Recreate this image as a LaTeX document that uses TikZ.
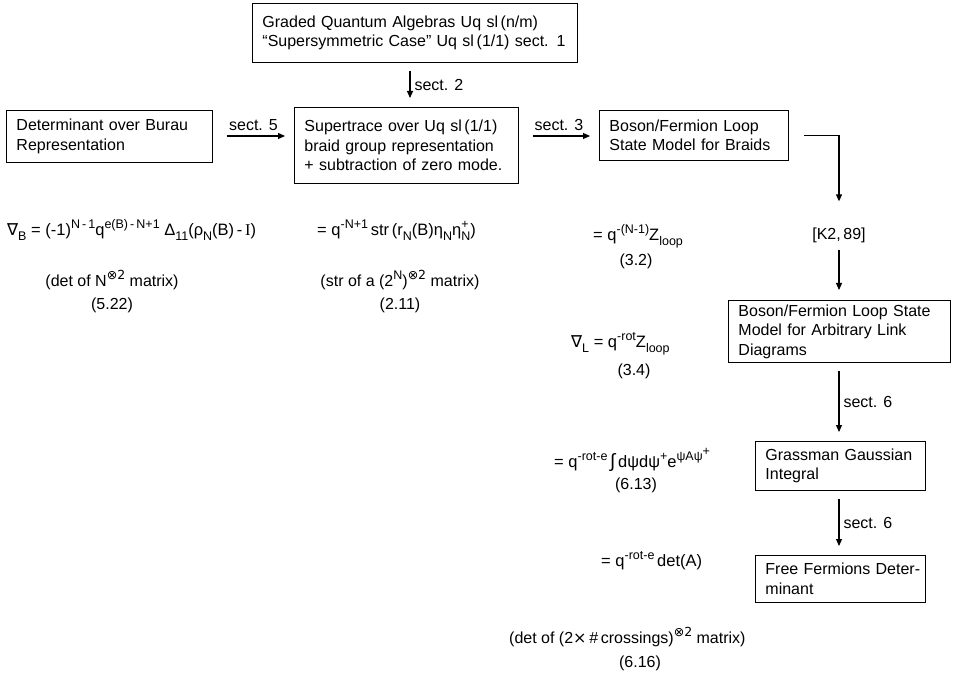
\documentclass[tikz,border=0pt]{standalone}
\usepackage{fontspec}
\setmainfont{Liberation Sans}
\newfontfamily\sym{DejaVu Sans}
\newfontfamily\serifI{Liberation Serif}
\usetikzlibrary{arrows.meta}
\newcommand{\su}[1]{\raisebox{0.42em}{\fontsize{12.5}{12.5}\selectfont #1}}
\newcommand{\sd}[1]{\raisebox{-0.28em}{\fontsize{12.5}{12.5}\selectfont #1}}
\newcommand{\sud}[2]{\rlap{\su{#1}}\sd{#2}}
\begin{document}
\begin{tikzpicture}[x=1pt,y=-1pt,
  every node/.style={font=\fontsize{16}{19.5}\selectfont},
  box/.style={draw, line width=0.9pt, align=left, inner xsep=10pt, inner ysep=0pt, anchor=north west},
  lbl/.style={inner sep=1pt},
  fml/.style={inner sep=1pt, anchor=west, font=\fontsize{16.5}{19.5}\selectfont},
  arr/.style={line width=1.1pt, -{Triangle[length=7pt,width=6pt]}, shorten <=8pt, shorten >=9pt}]
\useasboundingbox (0,0) rectangle (958,684);
% boxes
\node[box, minimum height=59, text width=305] (top) at (252,3)
  {\mbox{Graded Quantum Algebras Uq sl\,(n/m)}\\\mbox{``Supersymmetric Case'' Uq sl\,(1/1) sect. 1}};
\node[box, minimum height=52, text width=186] (det) at (6,110)
  {\mbox{Determinant over Burau}\\\mbox{Representation}};
\node[box, minimum height=76, text width=204] (super) at (294,107)
  {\mbox{Supertrace over Uq sl\,(1/1)}\\\mbox{braid group representation}\\\mbox{+ subtraction of zero mode.}};
\node[box, minimum height=50, text width=169] (bos1) at (599,110)
  {\mbox{Boson/Fermion Loop}\\\mbox{State Model for Braids}};
\node[box, minimum height=62, text width=202] (bos2) at (728,300)
  {\mbox{Boson/Fermion Loop State}\\\mbox{Model for Arbitrary Link}\\\mbox{Diagrams}};
\node[box, minimum height=49, text width=150] (grass) at (755,441)
  {\mbox{Grassman Gaussian}\\\mbox{Integral}};
\node[box, minimum height=47, text width=150] (free) at (755,555)
  {\mbox{Free Fermions Deter-}\\\mbox{minant}};
\node[lbl] (k2) at (839,235) {[K2,\,89]};
% connectors
\coordinate (s2x) at (410,0);
\draw[arr] (top.south -| s2x) -- (super.north -| s2x) node[lbl, midway, right=3pt] {sect. 2};
\coordinate (s5y) at (0,136);
\draw[arr, shorten <=14pt] (det.east |- s5y) -- (super.west |- s5y) node[lbl, midway, above=4pt] {sect. 5};
\draw[arr, shorten <=14pt] (super.east |- s5y) -- (bos1.west |- s5y) node[lbl, midway, above=4pt] {sect. 3};
\draw[arr, shorten <=15pt, shorten >=25pt] (bos1.east) -| (k2.north);
\draw[arr, shorten <=6pt, shorten >=10pt] (k2.south) -- (k2 |- bos2.north);
\draw[arr] (bos2.south -| k2) -- (grass.north -| k2) node[lbl, midway, right=3pt] {sect. 6};
\draw[arr] (grass.south -| k2) -- (free.north -| k2) node[lbl, midway, right=3pt] {sect. 6};
% formulas
\node[fml] (f1) at (6,230) {{\sym ∇}\sd{B} = (-1)\su{N\,-\,1}q\su{e(B)\,-\,N+1}\;Δ\sd{11}(ρ\sd{N}(B)\,-\,{\serifI I})};
\node[fml] (f2) at (316,230) {= q\su{-N+1}\,str\,(r\sd{N}(B)η\sd{N}η\sud{+}{N})};
\node[fml] (f3) at (592,236) {= q\su{-(N-1)}Z\sd{loop}};
\node[lbl] (e32) at (636,261) {(3.2)};
\node[lbl] (n1) at (112,280) {(det of N\su{\sym ⊗2} matrix)};
\node[lbl] (e522) at (112,305) {(5.22)};
\node[lbl] (n2) at (400,280) {(str of a (2\su{N})\su{\sym ⊗2} matrix)};
\node[lbl] (e211) at (400,305) {(2.11)};
\node[fml] (f4) at (570,344) {{\sym ∇}\sd{L} = q\su{-rot}Z\sd{loop}};
\node[lbl] (e34) at (634,371) {(3.4)};
\node[fml] (f5) at (553,460) {= q\su{-rot-e}\,{\fontsize{19}{19}\selectfont ∫}\,dψdψ\su{+}e\su{ψAψ\su{+}}};
\node[lbl] (e613) at (636,485) {(6.13)};
\node[fml] (f6) at (600,561) {= q\su{-rot-e}\,det(A)};
\node[lbl, anchor=west] (n3) at (508,637) {(det of (2{\sym ×}\,\#\,crossings)\su{\sym ⊗2} matrix)};
\node[lbl] (e616) at (640,663) {(6.16)};
\end{tikzpicture}
\end{document}
